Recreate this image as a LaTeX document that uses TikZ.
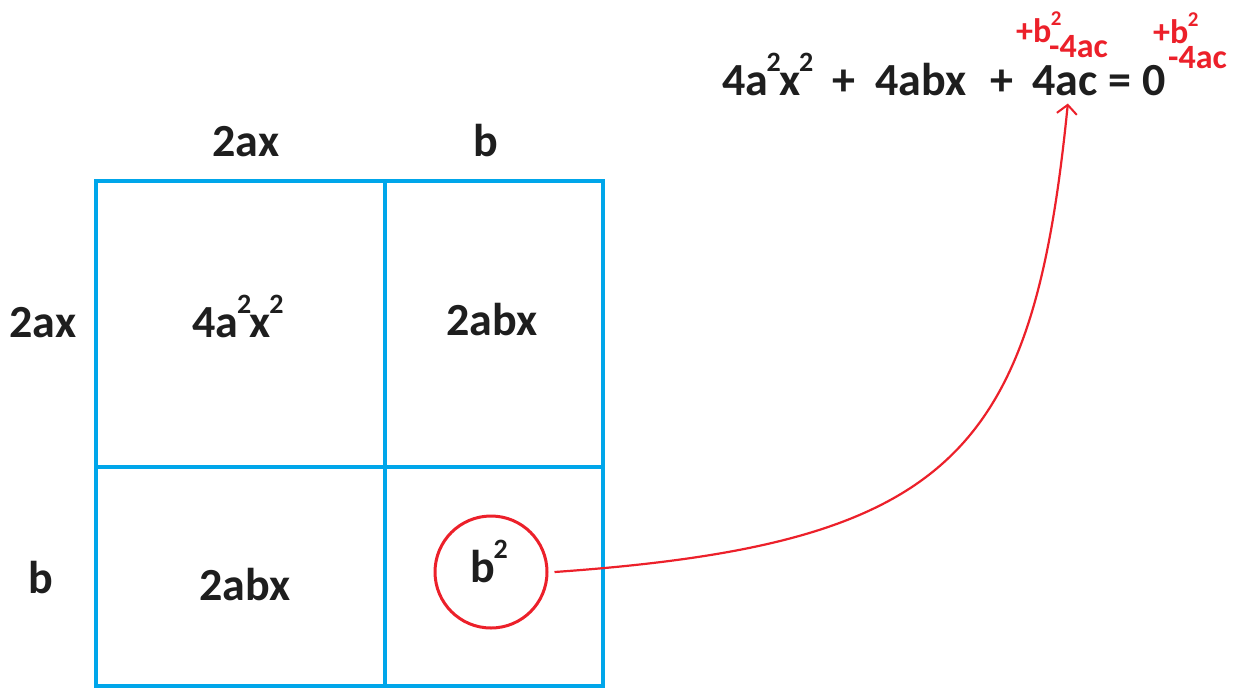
\documentclass[tikz,border=0pt]{standalone}
\usepackage{fontspec}
\setmainfont{Carlito}
\usetikzlibrary{arrows.meta}
\definecolor{gridblue}{RGB}{0,166,234}
\definecolor{mred}{RGB}{236,32,42}
\definecolor{ink}{RGB}{30,30,30}
\newcommand\bsup[1]{\kern-1.5pt\raisebox{24pt}{\fontsize{28}{28}\selectfont #1}}
\newcommand\rsup[1]{\kern-0.5pt\raisebox{17pt}{\fontsize{21}{21}\selectfont #1}}
\begin{document}
\begin{tikzpicture}[x=1pt,y=-1pt,
  lbl/.style={font=\fontsize{46}{46}\selectfont\bfseries, text=ink, inner sep=0pt, anchor=base},
  eqt/.style={font=\fontsize{46}{46}\selectfont\bfseries, text=ink, inner sep=0pt, anchor=base west},
  rtxt/.style={font=\fontsize{34}{34}\selectfont\bfseries, text=mred, inner sep=0pt},
  gridline/.style={draw=gridblue, line width=4pt},
  redline/.style={draw=mred, line width=2.2pt}]
\useasboundingbox (0,0) rectangle (1238,689);
\fill[white] (0,0) rectangle (1238,689);
% grid
\draw[gridline] (96,181) rectangle (603,686);
\draw[gridline] (385,181) -- (385,686);
\draw[gridline] (96,467) -- (603,467);
% side labels
\node[lbl] (top2ax) at (246,156) {2ax};
\node[lbl] (topb) at (486,156) {b};
\node[lbl] (left2ax) at (43,337) {2ax};
\node[lbl] (leftb) at (41,593) {b};
% cells
\node[lbl] (c11) at (238,337) {4a\bsup{2}\kern-1.5pt x\bsup{2}};
\node[lbl] (c12) at (492,335) {2abx};
\node[lbl] (c21) at (245,600) {2abx};
\node[lbl] (c22) at (489,582) {b\bsup{2}};
\node[draw=mred, line width=3pt, circle, minimum size=112pt, inner sep=0pt] (circ) at (491,572) {};
% equation
\node[eqt] (e1) at (722,95) {4a\bsup{2}\kern-1.5pt x\bsup{2}};
\node[eqt] (p1) at (832,95) {+};
\node[eqt] (e2) at (875,95) {4abx};
\node[eqt] (p2) at (990,95) {+};
\node[eqt] (e3) at (1032,95) {4ac};
\node[eqt] (eqs) at (1108,95) {=};
\node[eqt] (e4) at (1142,95) {0};
% red additions
\node[rtxt, anchor=base west] (r1) at (1016,42) {+b\rsup{2}};
\node[rtxt, anchor=base east] (r2) at (1108,57) {-4ac};
\node[rtxt, anchor=base west] (r3) at (1153,43) {+b\rsup{2}};
\node[rtxt, anchor=base east] (r4) at (1227,68) {-4ac};
% arrow
\draw[redline, -{Straight Barb[length=9pt,width=20pt,line width=2pt]}]
  ([xshift=6pt]circ.east) .. controls (954,544) and (1033,453) .. ([yshift=-8pt,xshift=3pt]e3.south);
\end{tikzpicture}
\end{document}
